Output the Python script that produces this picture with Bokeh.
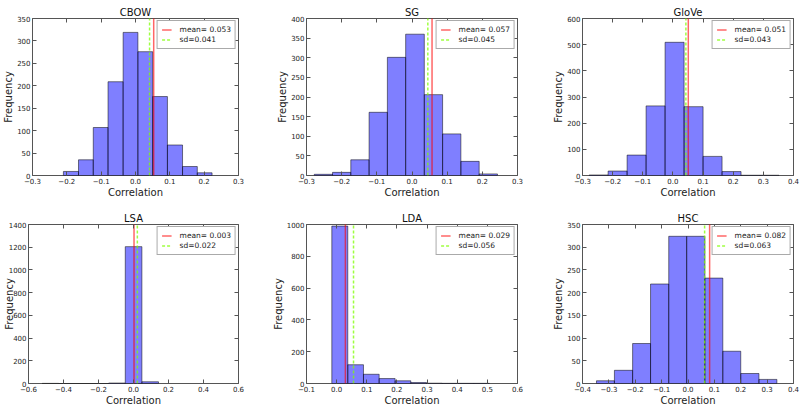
import numpy as np
from bokeh.plotting import figure
from bokeh.layouts import column, row
from bokeh.models import Range1d, FixedTicker, LinearAxis
from bokeh.embed import file_html
from bokeh.resources import INLINE

# Histogram bins (edges) and counts of pairwise correlations for each model
cbow_edges = [-0.210, -0.166, -0.123, -0.080, -0.036, 0.007, 0.050, 0.093, 0.137, 0.180, 0.223]
cbow_counts = [9, 35, 107, 209, 319, 276, 176, 68, 20, 6]

sg_edges = [-0.278, -0.226, -0.174, -0.122, -0.070, -0.018, 0.035, 0.087, 0.139, 0.191, 0.243]
sg_counts = [3, 8, 40, 161, 301, 360, 206, 106, 36, 4]

glove_edges = [-0.278, -0.215, -0.152, -0.089, -0.026, 0.037, 0.100, 0.163, 0.226, 0.289, 0.352]
glove_counts = [2, 17, 78, 266, 509, 263, 73, 15, 1, 1]

lsa_edges = [-0.522, -0.427, -0.332, -0.237, -0.142, -0.047, 0.048, 0.143]
lsa_counts = [1, 0, 0, 0, 4, 1205, 15]

lda_edges = [-0.016, 0.037, 0.089, 0.141, 0.194, 0.246, 0.298, 0.350, 0.403, 0.455, 0.507]
lda_counts = [990, 118, 58, 31, 17, 6, 2, 1, 1, 1]

hsc_edges = [-0.347, -0.279, -0.210, -0.142, -0.073, -0.005, 0.064, 0.132, 0.200, 0.269, 0.337]
hsc_counts = [6, 29, 88, 219, 324, 324, 232, 71, 22, 9]

# Summary statistics shown as vertical lines
means = [0.053, 0.057, 0.051, 0.003, 0.029, 0.082]
sds = [0.041, 0.045, 0.043, 0.022, 0.056, 0.063]

titles = ["CBOW", "SG", "GloVe", "LSA", "LDA", "HSC"]

# Axis ticks
xticks_cbow = [-0.3, -0.2, -0.1, 0.0, 0.1, 0.2, 0.3]
xticks_sg = [-0.3, -0.2, -0.1, 0.0, 0.1, 0.2, 0.3]
xticks_glove = [-0.3, -0.2, -0.1, 0.0, 0.1, 0.2, 0.3, 0.4]
xticks_lsa = [-0.6, -0.4, -0.2, 0.0, 0.2, 0.4, 0.6]
xticks_lda = [-0.1, 0.0, 0.1, 0.2, 0.3, 0.4, 0.5, 0.6]
xticks_hsc = [-0.4, -0.3, -0.2, -0.1, 0.0, 0.1, 0.2, 0.3, 0.4]

yticks_cbow = [0, 50, 100, 150, 200, 250, 300, 350]
yticks_sg = [0, 50, 100, 150, 200, 250, 300, 350, 400]
yticks_glove = [0, 100, 200, 300, 400, 500, 600]
yticks_lsa = [0, 200, 400, 600, 800, 1000, 1200, 1400]
yticks_lda = [0, 200, 400, 600, 800, 1000]
yticks_hsc = [0, 50, 100, 150, 200, 250, 300, 350]

edges_all = [cbow_edges, sg_edges, glove_edges, lsa_edges, lda_edges, hsc_edges]
counts_all = [cbow_counts, sg_counts, glove_counts, lsa_counts, lda_counts, hsc_counts]
xticks_all = [xticks_cbow, xticks_sg, xticks_glove, xticks_lsa, xticks_lda, xticks_hsc]
yticks_all = [yticks_cbow, yticks_sg, yticks_glove, yticks_lsa, yticks_lda, yticks_hsc]

FONT = "DejaVu Sans"
FRAME = "#555555"
TEXT = "#222222"


def fmt_x(t):
    return f"{t:.1f}".replace("-", "\u2212")


def make_panel(i, width, height, borders, ylabel_standoff=0):
    left, right, top, bottom = borders
    xt, yt = xticks_all[i], yticks_all[i]
    p = figure(width=width, height=height, output_backend="svg", toolbar_location=None,
               x_range=Range1d(xt[0], xt[-1]), y_range=Range1d(yt[0], yt[-1]),
               min_border_left=left, min_border_right=right,
               min_border_top=top, min_border_bottom=bottom,
               title=titles[i])
    p.background_fill_color = "white"
    p.border_fill_color = "white"
    p.outline_line_color = FRAME
    p.outline_line_width = 1
    p.grid.visible = False

    p.title.align = "center"
    p.title.text_font = FONT
    p.title.text_font_size = "10px"
    p.title.text_font_style = "normal"
    p.title.text_color = "#111111"
    p.title.standoff = 1

    e = edges_all[i]
    p.quad(left=e[:-1], right=e[1:], bottom=0, top=counts_all[i],
           fill_color="blue", fill_alpha=0.5, line_color="black", line_alpha=0.5, line_width=1)

    p.ray(x=[means[i]], y=[0], length=0, angle=np.pi / 2, line_color="red", line_alpha=0.6,
          line_width=1.5, legend_label=f"mean= {means[i]:.3f}")
    p.ray(x=[sds[i]], y=[0], length=0, angle=np.pi / 2, line_color="chartreuse", line_alpha=0.75,
          line_width=1.5, line_dash="3 2", legend_label=f"sd={sds[i]:.3f}")

    xa, ya = p.xaxis[0], p.yaxis[0]
    xa.ticker = FixedTicker(ticks=xt)
    ya.ticker = FixedTicker(ticks=yt)
    xa.major_label_overrides = {t: fmt_x(t) for t in xt}
    ya.major_label_overrides = {t: str(t) for t in yt}
    xa.axis_label = "Correlation"
    ya.axis_label = "Frequency"
    for ax in (xa, ya):
        ax.axis_line_color = None
        ax.major_tick_in = 4
        ax.major_tick_out = 0
        ax.major_tick_line_color = FRAME
        ax.minor_tick_line_color = None
        ax.major_label_text_font = FONT
        ax.major_label_text_font_size = "7px"
        ax.major_label_text_color = TEXT
        ax.major_label_standoff = 2
        ax.axis_label_text_font = FONT
        ax.axis_label_text_font_size = "10px"
        ax.axis_label_text_font_style = "normal"
        ax.axis_label_text_color = TEXT
    xa.axis_label_standoff = 0
    ya.axis_label_standoff = ylabel_standoff

    # tick marks on the top and right edges of the frame
    for side, tk in (("above", xt), ("right", yt)):
        ax = LinearAxis(ticker=FixedTicker(ticks=tk))
        ax.axis_line_color = None
        ax.major_tick_in = 4
        ax.major_tick_out = 0
        ax.major_tick_line_color = FRAME
        ax.minor_tick_line_color = None
        ax.major_label_text_font_size = "0px"
        ax.major_label_text_color = None
        ax.major_label_standoff = 0
        p.add_layout(ax, side)

    lg = p.legend[0]
    lg.location = "top_right"
    lg.margin = 2
    lg.padding = 4
    lg.spacing = 1
    lg.label_height = 9
    lg.glyph_height = 9
    lg.glyph_width = 10
    lg.label_standoff = 8
    lg.label_text_font = FONT
    lg.label_text_font_size = "7.5px"
    lg.label_text_color = TEXT
    lg.border_line_color = FRAME
    lg.border_line_width = 1
    lg.background_fill_alpha = 1.0
    return p


f1 = make_panel(0, 265, 200, (28, 27, 18, 23))
f2 = make_panel(1, 265, 200, (41, 13, 18, 23))
f3 = make_panel(2, 273, 200, (52, 10, 18, 23))
f4 = make_panel(3, 265, 208, (28, 27, 24, 24), ylabel_standoff=-9)
f5 = make_panel(4, 265, 208, (41, 13, 24, 24))
f6 = make_panel(5, 273, 208, (52, 10, 24, 24))

layout = column(row(f1, f2, f3), row(f4, f5, f6))

open("out.html", "w").write(file_html(layout, INLINE))
